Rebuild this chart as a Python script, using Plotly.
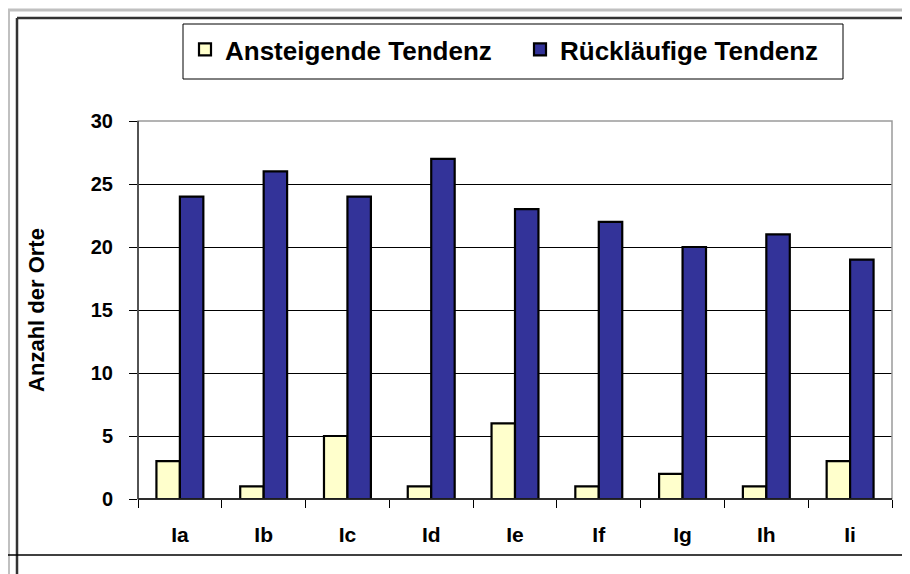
import plotly.graph_objects as go

categories = ["Ia", "Ib", "Ic", "Id", "Ie", "If", "Ig", "Ih", "Ii"]
ansteigend = [3, 1, 5, 1, 6, 1, 2, 1, 3]
ruecklaeufig = [24, 26, 24, 27, 23, 22, 20, 21, 19]
y_ticks = [0, 5, 10, 15, 20, 25, 30]

OFF = 8                      # page body margin
W, H = 910 - OFF, 574 - OFF  # figure size
# plot area in screen pixels
L, R, T, B = 138, 892, 121, 499
pw, ph = R - L, B - T

def px(x):
    return (x - L) / pw

def py(y):
    return (B - y) / ph

FONT = "Liberation Sans"

fig = go.Figure()
fig.add_trace(go.Bar(x=categories, y=ansteigend, name="Ansteigende Tendenz",
                     marker=dict(color="#FFFFCC", line=dict(color="black", width=2.2))))
fig.add_trace(go.Bar(x=categories, y=ruecklaeufig, name="Rückläufige Tendenz",
                     marker=dict(color="#333399", line=dict(color="black", width=2.2))))

shapes = [
    dict(type="rect", xref="paper", yref="paper", x0=0, x1=1, y0=0, y1=1,
         line=dict(color="#9a9a9a", width=1.5), layer="above"),
    # outer grey frame
    dict(type="line", xref="paper", yref="paper", x0=px(OFF), x1=px(920), y0=py(10), y1=py(10),
         line=dict(color="#c0c0c0", width=3)),
    dict(type="line", xref="paper", yref="paper", x0=px(OFF + 0.5), x1=px(OFF + 0.5), y0=py(10), y1=py(590),
         line=dict(color="#c0c0c0", width=3)),
    # black frame
    dict(type="line", xref="paper", yref="paper", x0=px(17), x1=px(920), y0=py(18), y1=py(18),
         line=dict(color="#333333", width=2.5)),
    dict(type="line", xref="paper", yref="paper", x0=px(17), x1=px(17), y0=py(18), y1=py(590),
         line=dict(color="#333333", width=2.5)),
    dict(type="line", xref="paper", yref="paper", x0=px(OFF), x1=px(920), y0=py(555), y1=py(555),
         line=dict(color="black", width=1.5)),
    # legend box
    dict(type="rect", xref="paper", yref="paper", x0=px(183), x1=px(843), y0=py(79), y1=py(24),
         line=dict(color="black", width=1), fillcolor="white", layer="below"),
    # axis lines
    dict(type="line", xref="paper", yref="paper", x0=0, x1=1, y0=0, y1=0,
         line=dict(color="black", width=1.5), layer="above"),
    dict(type="line", xref="paper", yref="paper", x0=0, x1=0, y0=0, y1=1,
         line=dict(color="#333333", width=1.5), layer="above"),
]

fig.update_layout(
    width=W, height=H,
    margin=dict(l=L - OFF, r=W - (R - OFF), t=T - OFF, b=H - (B - OFF)),
    paper_bgcolor="white", plot_bgcolor="white",
    barmode="group", bargap=0.44, bargroupgap=0,
    font=dict(family=FONT, color="black"),
    showlegend=True,
    legend=dict(orientation="h", xref="container", yref="container",
                x=(185 - OFF) / W, y=1 - (26 - OFF) / H, xanchor="left", yanchor="top",
                bgcolor="rgba(0,0,0,0)", borderwidth=0,
                font=dict(family=FONT, size=26, color="black", weight="bold"),
                itemwidth=30, entrywidth=290, entrywidthmode="pixels",
                traceorder="normal"),
    shapes=shapes,
    xaxis=dict(type="category", showgrid=False, showline=False,
               ticks="outside", tickson="boundaries", ticklen=8, tickcolor="black", tickwidth=1,
               tickfont=dict(family=FONT, size=21, color="black", weight="bold"),
               ticklabelstandoff=21),
    yaxis=dict(range=[0, 30], tickvals=y_ticks, showgrid=True, gridcolor="black", gridwidth=1,
               zeroline=False, showline=False,
               ticks="outside", ticklen=8, tickcolor="black", tickwidth=1,
               tickfont=dict(family=FONT, size=20, color="black", weight="bold"),
               ticklabelstandoff=12,
               title=dict(text="Anzahl der Orte", standoff=40,
                          font=dict(family=FONT, size=22, color="black", weight="bold"))),
)

fig.write_html("out.html")
